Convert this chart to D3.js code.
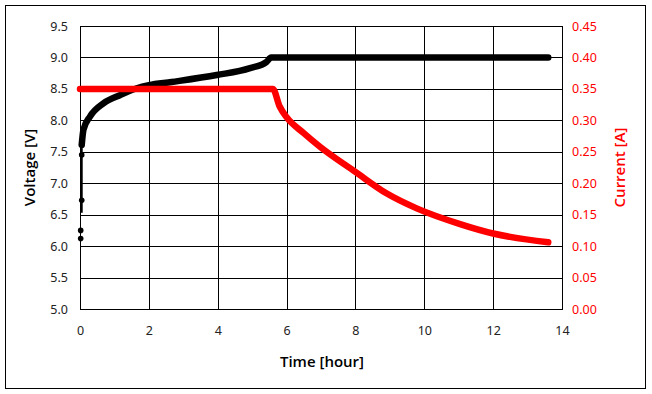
<!DOCTYPE html>
<meta charset='utf-8'>
<html>
<head>
<script src="https://d3js.org/d3.v7.min.js" charset="utf-8"></script>
<style>
  body { margin: 0; background: #fff; }
  text { font-family: "Noto Sans", "Open Sans", sans-serif; }
</style>
</head>
<body>
<div id="chart-container"></div>
<script>
// early voltage readings (sparse, drawn as markers)
const earlyTime = [0.02, 0.02, 0.05, 0.05, 0.05];
const earlyVolt = [6.12, 6.25, 6.73, 7.45, 7.61];

// voltage curve (dense logger data, drawn as a thick trace)
const voltTime = [0.05, 0.1, 0.29, 0.68, 1.16, 1.65, 2.0, 2.66, 3.97, 4.94, 5.42, 5.55, 7, 9, 11, 13.6];
const voltVals = [7.61, 7.85, 8.06, 8.27, 8.40, 8.51, 8.56, 8.61, 8.72, 8.83, 8.93, 9.0, 9.0, 9.0, 9.0, 9.0];

// current curve
const currTime = [0, 2, 4, 5.6, 5.8, 6.0, 6.49, 6.97, 8.0, 8.9, 9.78, 11.04, 12.0, 13.6];
const currVals = [0.35, 0.35, 0.35, 0.35, 0.322, 0.305, 0.280, 0.258, 0.218, 0.184, 0.160, 0.135, 0.120, 0.106];

// tick labels
const xTicks = [0, 2, 4, 6, 8, 10, 12, 14];
const voltTicks = [5.0, 5.5, 6.0, 6.5, 7.0, 7.5, 8.0, 8.5, 9.0, 9.5];
const currTicks = [0, 0.05, 0.10, 0.15, 0.20, 0.25, 0.30, 0.35, 0.40, 0.45];

const svgWidth = 652, svgHeight = 394;
const plot = {left: 80, right: 562, top: 26, bottom: 309};

const svg = d3.select('#chart-container').append('svg')
    .attr('width', svgWidth)
    .attr('height', svgHeight);

// outer chart border
svg.append('rect')
    .attr('x', 5.5).attr('y', 5.5)
    .attr('width', 640).attr('height', 383)
    .attr('fill', '#fff').attr('stroke', '#000').attr('stroke-width', 1);

const x = d3.scaleLinear().domain([0, 14]).range([plot.left, plot.right]);
const yV = d3.scaleLinear().domain([5, 9.5]).range([plot.bottom, plot.top]);
const yI = d3.scaleLinear().domain([0, 0.45]).range([plot.bottom, plot.top]);

const h = plot.bottom - plot.top;
const w = plot.right - plot.left;

// vertical gridlines + x labels
const xAxis = svg.append('g')
    .attr('transform', 'translate(0,' + plot.bottom + ')')
    .call(d3.axisBottom(x).tickValues(xTicks).tickSize(-h).tickSizeOuter(0).tickPadding(17));
xAxis.select('.domain').remove();
xAxis.selectAll('line').attr('stroke', '#000').attr('shape-rendering', 'crispEdges');
xAxis.selectAll('text').attr('fill', '#222').style('font-size', '12.5px');

// horizontal gridlines + voltage labels
const yAxis = svg.append('g')
    .attr('transform', 'translate(' + plot.left + ',0)')
    .call(d3.axisLeft(yV).tickValues(voltTicks).tickSize(-w).tickSizeOuter(0)
        .tickPadding(12).tickFormat(d3.format('.1f')));
yAxis.select('.domain').remove();
yAxis.selectAll('line').attr('stroke', '#000').attr('shape-rendering', 'crispEdges');
yAxis.selectAll('text').attr('fill', '#222').style('font-size', '12.5px');

// current labels (right)
const iAxis = svg.append('g')
    .attr('transform', 'translate(' + plot.right + ',0)')
    .call(d3.axisRight(yI).tickValues(currTicks).tickSize(0).tickPadding(10)
        .tickFormat(d3.format('.2f')));
iAxis.select('.domain').remove();
iAxis.selectAll('text').attr('fill', '#ff0000').style('font-size', '12.5px');

// plot border
svg.append('rect')
    .attr('x', plot.left + 0.5).attr('y', plot.top + 0.5)
    .attr('width', w).attr('height', h)
    .attr('fill', 'none').attr('stroke', '#000');

// voltage: thin connector + markers for the early points
const early = earlyTime.map((t, i) => [t, earlyVolt[i]]);
svg.append('path')
    .datum(early.slice(2))
    .attr('fill', 'none').attr('stroke', '#000').attr('stroke-width', 2)
    .attr('d', d3.line().x(d => x(d[0])).y(d => yV(d[1])));
svg.append('line')
    .attr('x1', x(0.05)).attr('x2', x(0.05))
    .attr('y1', yV(6.73)).attr('y2', yV(6.53))
    .attr('stroke', '#000').attr('stroke-width', 2);
svg.selectAll('.early')
    .data(early)
    .enter().append('circle')
    .attr('class', 'early')
    .attr('cx', d => x(d[0])).attr('cy', d => yV(d[1]))
    .attr('r', 2.8).attr('fill', '#000');

// voltage trace
const volt = voltTime.map((t, i) => [t, voltVals[i]]);
svg.append('path')
    .datum(volt)
    .attr('fill', 'none').attr('stroke', '#000').attr('stroke-width', 6.5)
    .attr('stroke-linecap', 'round').attr('stroke-linejoin', 'round')
    .attr('d', d3.line().curve(d3.curveMonotoneX).x(d => x(d[0])).y(d => yV(d[1])));

// current trace
const curr = currTime.map((t, i) => [t, currVals[i]]);
svg.append('path')
    .datum(curr)
    .attr('fill', 'none').attr('stroke', '#ff0000').attr('stroke-width', 6.5)
    .attr('stroke-linecap', 'round').attr('stroke-linejoin', 'round')
    .attr('d', d3.line().curve(d3.curveMonotoneX).x(d => x(d[0])).y(d => yI(d[1])));

// axis titles
svg.append('text')
    .attr('x', (plot.left + plot.right) / 2 + 1).attr('y', 367)
    .attr('text-anchor', 'middle').attr('fill', '#000')
    .style('font-family', '"Open Sans", "Noto Sans", sans-serif')
    .style('font-size', '15px').style('font-weight', 600)
    .text('Time [hour]');
svg.append('text')
    .attr('transform', 'translate(35,' + (plot.top + h / 2) + ') rotate(-90)')
    .attr('text-anchor', 'middle').attr('fill', '#000')
    .style('font-family', '"Open Sans", "Noto Sans", sans-serif')
    .style('font-size', '15px').style('font-weight', 600)
    .text('Voltage [V]');
svg.append('text')
    .attr('transform', 'translate(625,' + (plot.top + h / 2) + ') rotate(-90)')
    .attr('text-anchor', 'middle').attr('fill', '#ff0000')
    .style('font-family', '"Open Sans", "Noto Sans", sans-serif')
    .style('font-size', '15px').style('font-weight', 600)
    .text('Current [A]');
</script>
</body>
</html>
